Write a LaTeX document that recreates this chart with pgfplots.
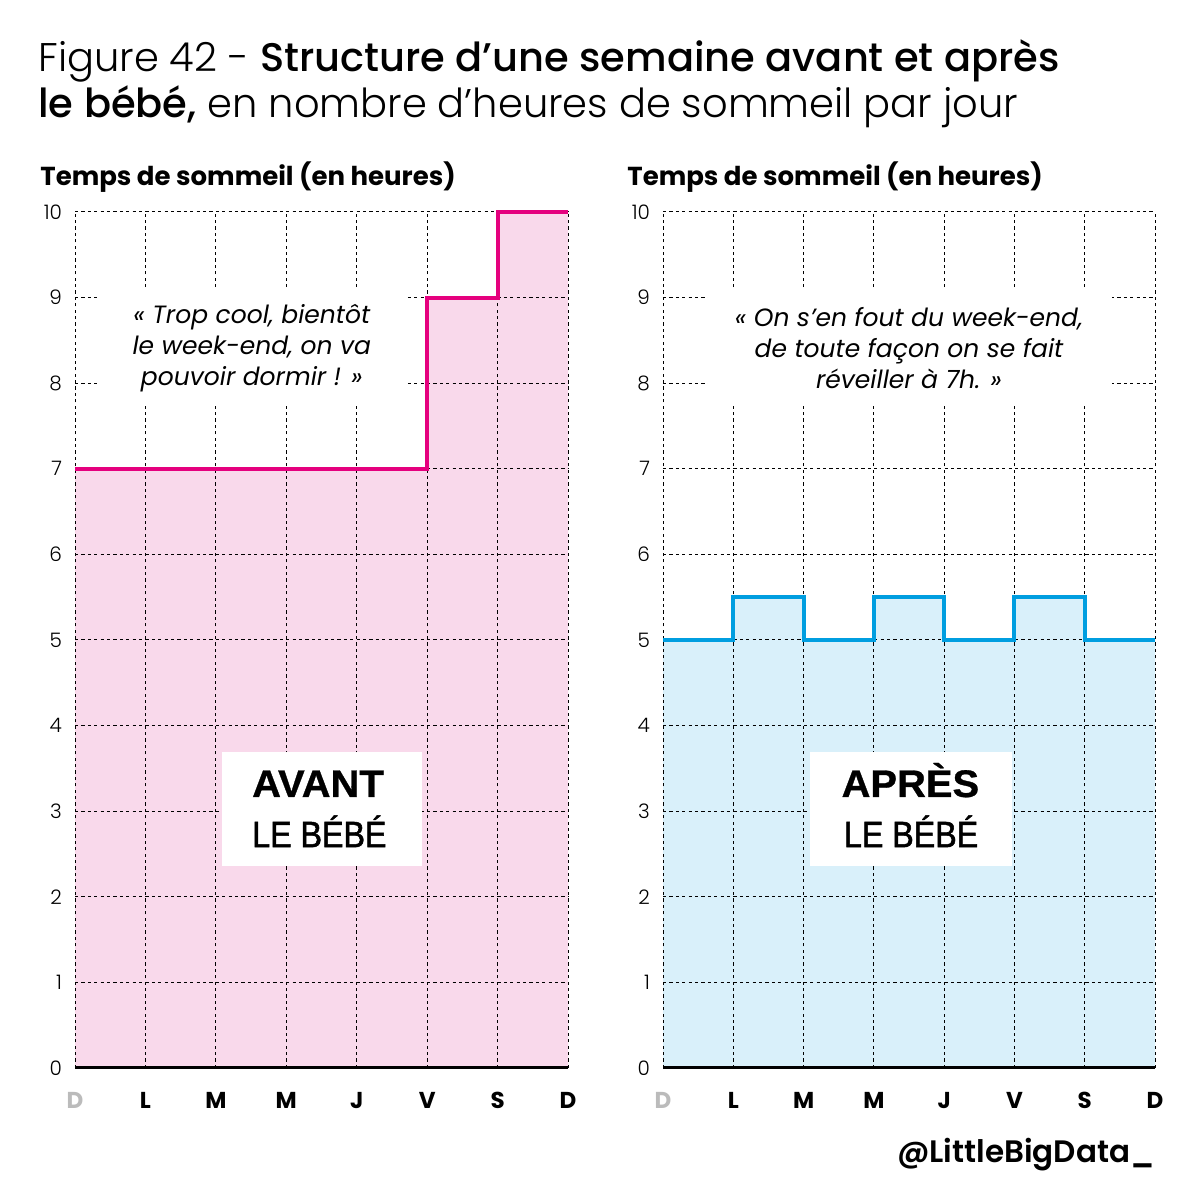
\documentclass[border=0pt]{standalone}
\usepackage{fontspec}
\setmainfont{Poppins}[UprightFont=* Light, ItalicFont=* Light Italic, BoldFont=* SemiBold]
\newfontfamily\popbold{Poppins Bold}
\newfontfamily\popsemi{Poppins SemiBold}
\newfontfamily\popmed{Poppins Medium}
\newfontfamily\popreg{Poppins}[ItalicFont=* Italic]
\newfontfamily\libb{Liberation Sans}[UprightFont=* Bold, FakeStretch=1.04, FakeBold=0.8]
\newfontfamily\lib{Liberation Sans}[FakeStretch=0.88, FakeBold=1.5]
\usepackage{pgfplots}
\pgfplotsset{compat=1.18}
\definecolor{pinkfill}{HTML}{F9D9EB}
\definecolor{magenta}{HTML}{E5007E}
\definecolor{bluefill}{HTML}{D9F0FA}
\definecolor{blueline}{HTML}{009EE0}
\definecolor{greyD}{HTML}{BBBBBB}
\pgfplotsset{
  panel/.style={
    set layers,
    scale only axis,
    width=246.5pt, height=428pt,
    xmin=0, xmax=7, ymin=0, ymax=10,
    xtick={0,...,7}, ytick={0,...,10},
    xticklabels={\textcolor{greyD}{D},L,M,M,J,V,S,D},
    axis line style={draw=none},
    tick style={draw=none},
    grid=major,
    grid style={black, line width=0.5pt, dash pattern=on 1.6pt off 1.6pt},
    /pgf/number format/assume math mode=true,
    yticklabel style={font=\fontsize{10}{12}\selectfont, anchor=east, xshift=-3pt},
    xticklabel style={font=\popbold\fontsize{11.5}{14}\selectfont, anchor=base, yshift=-20.5pt},
    clip=false,
  }
}
\begin{document}
\begin{tikzpicture}
\path (0,0) rectangle (600pt,600pt);
% titles
\node[anchor=base west, inner sep=0] at (19pt,564pt) {\fontsize{20}{24}\selectfont Figure 42 - {\popmed Structure d’une semaine avant et après}};
\node[anchor=base west, inner sep=0] at (19pt,541pt) {\fontsize{20}{24}\selectfont {\popmed le bébé,} en nombre d’heures de sommeil par jour};
\node[anchor=base west, inner sep=0] at (20pt,507pt) {\popbold\fontsize{13}{16}\selectfont Temps de sommeil (en heures)};
\node[anchor=base west, inner sep=0] at (313.5pt,507pt) {\popbold\fontsize{13}{16}\selectfont Temps de sommeil (en heures)};
\node[anchor=base east, inner sep=0] at (577.5pt,19pt) {\popsemi\fontsize{15.5}{19}\selectfont @LittleBigData\_};

% left panel
\begin{axis}[panel, at={(37.5pt,66pt)}, anchor=south west]
\addplot[const plot, fill=pinkfill, draw=none, on layer=axis background] coordinates {(0,7)(5,9)(6,10)(7,10)} \closedcycle;
\fill[white] (axis cs:0.355,7.77) rectangle (axis cs:4.69,9.11);
\fill[white] (axis cs:2.09,2.36) rectangle (axis cs:4.93,3.69);
\node[align=center, font=\popreg\itshape\fontsize{12.5}{15.5}\selectfont] at (axis cs:2.51,8.41) {« Trop cool, bientôt\\le week-end, on va\\pouvoir dormir ! »};
\node[anchor=base, inner sep=0, font=\libb\fontsize{19.2}{22}\selectfont] at (axis cs:3.45,3.166) {AVANT};
\node[anchor=base, inner sep=0, font=\lib\fontsize{18.3}{22}\selectfont] at (axis cs:3.47,2.58) {LE BÉBÉ};
\addplot[const plot, draw=magenta, line width=2pt] coordinates {(0,7)(5,9)(6,10)(7,10)};
\addplot[black, line width=1.5pt] coordinates {(0,0)(7,0)};
\end{axis}

% right panel
\begin{axis}[panel, at={(331.5pt,66pt)}, anchor=south west, width=246pt]
\addplot[const plot, fill=bluefill, draw=none, on layer=axis background] coordinates {(0,5)(1,5.5)(2,5)(3,5.5)(4,5)(5,5.5)(6,5)(7,5)} \closedcycle;
\fill[white] (axis cs:0.64,7.77) rectangle (axis cs:6.39,9.11);
\fill[white] (axis cs:2.09,2.36) rectangle (axis cs:4.96,3.69);
\node[align=center, font=\popreg\itshape\fontsize{12.5}{15.5}\selectfont] at (axis cs:3.5,8.41) {« On s’en fout du week-end,\\de toute façon on se fait\\réveiller à 7h. »};
\node[anchor=base, inner sep=0, font=\libb\fontsize{19.2}{22}\selectfont] at (axis cs:3.52,3.166) {APRÈS};
\node[anchor=base, inner sep=0, font=\lib\fontsize{18.3}{22}\selectfont] at (axis cs:3.53,2.58) {LE BÉBÉ};
\addplot[const plot, draw=blueline, line width=2pt] coordinates {(0,5)(1,5.5)(2,5)(3,5.5)(4,5)(5,5.5)(6,5)(7,5)};
\addplot[black, line width=1.5pt] coordinates {(0,0)(7,0)};
\end{axis}
\end{tikzpicture}
\end{document}
